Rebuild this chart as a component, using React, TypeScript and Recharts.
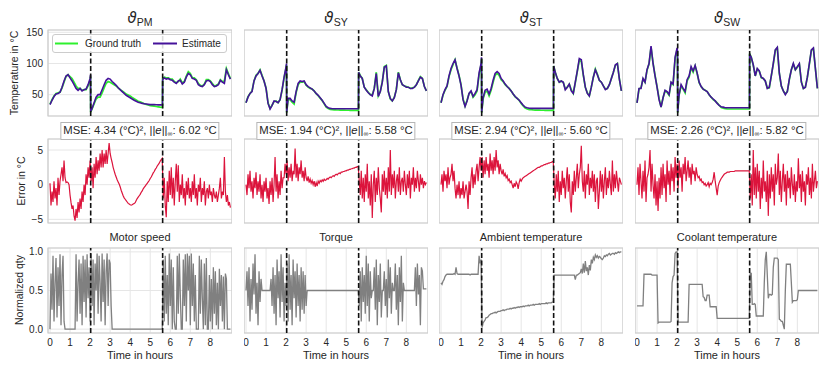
import React from "react";
import { CartesianGrid, LineChart, Line, ReferenceArea, ReferenceLine, XAxis, YAxis } from "recharts";

// time grids (hours)
const COARSE_HOURS = [
  0, 0.1, 0.2, 0.3, 0.4, 0.5, 0.6, 0.7, 0.8, 0.9,
  1, 1.1, 1.2, 1.3, 1.4, 1.5, 1.6, 1.7, 1.8, 1.9,
  2, 2.02, 2.03,
  2.1, 2.2, 2.3, 2.4, 2.5, 2.6, 2.7, 2.8, 2.9,
  3, 3.1, 3.2, 3.3, 3.4, 3.5, 3.6, 3.7, 3.8, 3.9,
  4, 4.1, 4.2, 4.3, 4.4, 4.5, 4.6, 4.7, 4.8, 4.9,
  5, 5.1, 5.2, 5.3, 5.4, 5.5, 5.6,
  5.61, 5.62,
  5.7, 5.8, 5.9,
  6, 6.1, 6.2, 6.3, 6.4, 6.5, 6.6, 6.7, 6.8, 6.9,
  7, 7.1, 7.2, 7.3, 7.4, 7.5, 7.6, 7.7, 7.8, 7.9,
  8, 8.1, 8.2, 8.3, 8.4, 8.5, 8.6, 8.7, 8.8, 8.9,
  9,
];

const FINE_HOURS = [
  0, 0.05, 0.1, 0.15, 0.2, 0.25, 0.3, 0.35, 0.4, 0.45, 0.5, 0.55, 0.6, 0.65, 0.7, 0.75, 0.8, 0.85, 0.9, 0.95,
  1, 1.05, 1.1, 1.15, 1.2, 1.25, 1.3, 1.35, 1.4, 1.45, 1.5, 1.55, 1.6, 1.65, 1.7, 1.75, 1.8, 1.85, 1.9, 1.95,
  2, 2.05, 2.1, 2.15, 2.2, 2.25, 2.3, 2.35, 2.4, 2.45, 2.5, 2.55, 2.6, 2.65, 2.7, 2.75, 2.8, 2.85, 2.9, 2.95,
  3, 3.05, 3.1, 3.15, 3.2, 3.25, 3.3, 3.35, 3.4, 3.45, 3.5, 3.55, 3.6, 3.65, 3.7, 3.75, 3.8, 3.85, 3.9, 3.95,
  4, 4.05, 4.1, 4.15, 4.2, 4.25, 4.3, 4.35, 4.4, 4.45, 4.5, 4.55, 4.6, 4.65, 4.7, 4.75, 4.8, 4.85, 4.9, 4.95,
  5, 5.05, 5.1, 5.15, 5.2, 5.25, 5.3, 5.35, 5.4, 5.45, 5.5, 5.55, 5.6, 5.65, 5.7, 5.75, 5.8, 5.85, 5.9, 5.95,
  6, 6.05, 6.1, 6.15, 6.2, 6.25, 6.3, 6.35, 6.4, 6.45, 6.5, 6.55, 6.6, 6.65, 6.7, 6.75, 6.8, 6.85, 6.9, 6.95,
  7, 7.05, 7.1, 7.15, 7.2, 7.25, 7.3, 7.35, 7.4, 7.45, 7.5, 7.55, 7.6, 7.65, 7.7, 7.75, 7.8, 7.85, 7.9, 7.95,
  8, 8.05, 8.1, 8.15, 8.2, 8.25, 8.3, 8.35, 8.4, 8.45, 8.5, 8.55, 8.6, 8.65, 8.7, 8.75, 8.8, 8.85, 8.9, 8.95,
  9,
];

// temperatures in °C on COARSE_HOURS
const PM_TRUTH = [
  35, 42, 48, 52, 53, 54, 61, 70, 79, 82,
  79, 76, 70, 64, 60, 60, 57, 58, 58, 64,
  73, 79, 22,
  27, 35, 43, 46, 46, 53, 61, 68, 71,
  70, 68, 66, 64, 61, 58, 56, 53.5, 51, 49.5,
  48, 45.5, 43.5, 41.5, 39.5, 38.5, 37, 35.5, 34.5, 33.5,
  32.5, 32, 31.5, 31, 30.5, 30, 29.7,
  29.7, 76,
  78, 77, 77,
  75, 75, 71, 69, 71, 75, 69, 71, 80, 87,
  84, 77, 77, 74, 68, 65, 64, 67, 74, 74,
  72, 68, 64, 65, 67, 74, 71, 72, 92, 84,
  76,
];
const PM_ESTIMATE = [
  34, 41, 47, 51, 52, 54, 62, 72, 80, 82,
  77, 72, 66, 60, 57, 60, 56, 58, 59, 66,
  76, 82, 23,
  28, 37, 46, 50, 50, 58, 66, 73, 76,
  75, 71, 68, 65, 61, 58, 55, 52, 49, 47,
  45, 43, 41, 39.5, 38, 37, 36, 35.5, 35, 34.5,
  34, 34, 34, 33.8, 33.7, 33.6, 33.5,
  33.5, 74,
  77, 75, 76,
  74, 73, 70, 68, 72, 73, 67, 70, 78, 84,
  82, 76, 75, 73, 66, 64, 63, 66, 72, 73,
  71, 66, 63, 64, 66, 73, 70, 68, 90, 82,
  75,
];
const SY_TRUTH = [
  37, 47, 52, 56, 72, 81, 84, 90, 81, 72,
  61, 37, 28, 33, 39, 40, 37, 42, 57, 77,
  93, 98, 21,
  42, 42, 38, 35, 53, 66, 70, 70, 71,
  65, 62, 60, 59, 56, 51.5, 48.5, 44.5, 40.5, 35.5,
  30, 28, 26.5, 26, 25.7, 25.5, 25.4, 25.3, 25.2, 25.1,
  25, 25, 24.9, 24.9, 24.8, 24.8, 24.8,
  24.8, 86,
  81, 76, 62,
  58, 54, 50, 50, 60, 86, 48, 55, 71, 95,
  97, 55, 43, 40, 46, 58, 86, 74, 66, 64,
  63, 62, 60, 61, 62, 66, 73, 79, 76, 63,
  56,
];
const SY_ESTIMATE = [
  37, 46, 52, 55, 72, 80, 84, 89, 80, 72,
  60, 36, 27, 33, 40, 39, 37, 42, 58, 78,
  95, 100, 22,
  44, 44, 40, 38, 55, 68, 72, 71, 72,
  66, 63, 61, 59, 56, 52, 49, 45, 41, 36,
  31, 29, 28, 27.5, 27.4, 27.4, 27.4, 27.4, 27.4, 27.4,
  27.4, 27.4, 27.4, 27.4, 27.4, 27.4, 27.4,
  27.4, 86,
  80, 76, 62,
  57, 53, 50, 48, 60, 84, 47, 55, 70, 94,
  96, 55, 44, 40, 45, 58, 85, 74, 66, 64,
  62, 62, 60, 60, 62, 66, 72, 78, 76, 63,
  56,
];
const ST_TRUTH = [
  37, 49, 57, 63, 79, 90, 98, 106, 93, 81,
  66, 43, 32, 41, 52, 55, 46, 50, 56, 82,
  98, 108, 21,
  43, 54, 56, 48, 57, 70, 81, 84, 81,
  74, 71, 66, 63, 60, 56, 51, 46.5, 44, 41,
  36, 32, 28.5, 27, 26, 25.8, 25.5, 25.3, 25.2, 25.1,
  25, 25, 24.9, 24.9, 24.8, 24.8, 24.7,
  24.7, 96,
  86, 76, 70,
  72, 70, 59, 62, 67, 58, 52, 69, 87, 105,
  103, 81, 62, 53, 48, 62, 78, 91, 83, 73,
  70, 64, 59, 60, 66, 76, 86, 97, 100, 75,
  56,
];
const ST_ESTIMATE = [
  37, 50, 58, 64, 80, 92, 100, 106, 92, 80,
  65, 42, 31, 40, 52, 56, 47, 52, 58, 85,
  100, 110, 22,
  45, 57, 59, 51, 60, 73, 84, 87, 84,
  76, 72, 67, 63, 60, 56, 51, 47, 44, 41,
  37, 33, 30, 29, 28.3, 28, 28, 28, 28, 28,
  28, 28, 28, 28, 28, 28, 28,
  28, 96,
  86, 76, 70,
  72, 70, 58, 62, 67, 56, 52, 70, 88, 108,
  106, 82, 62, 52, 48, 62, 78, 90, 82, 73,
  70, 64, 58, 60, 66, 76, 86, 98, 100, 75,
  56,
];
const SW_TRUTH = [
  37, 59, 61, 75, 70, 89, 99, 126, 101, 81,
  63, 44, 30, 45, 56, 54, 49, 69, 66, 108,
  123, 118, 21,
  49, 64, 59, 53, 72, 78, 93, 86, 96,
  84, 69, 63, 59, 57, 55, 50, 46, 42, 40,
  37, 33, 29.5, 28.5, 27.5, 27.2, 27, 27, 27, 27,
  27, 27, 27, 27, 27, 27, 27,
  27, 116,
  110, 97, 80,
  91, 88, 77, 76, 72, 61, 61, 80, 99, 121,
  125, 84, 64, 56, 51, 55, 74, 90, 99, 90,
  94, 99, 71, 60, 62, 78, 99, 121, 124, 92,
  60,
];
const SW_ESTIMATE = [
  37, 60, 60, 76, 70, 90, 100, 128, 100, 80,
  62, 42, 30, 45, 57, 55, 50, 70, 67, 110,
  125, 120, 22,
  50, 66, 60, 55, 74, 80, 95, 88, 97,
  85, 70, 63, 59, 57, 55, 50, 46, 43, 40,
  36, 33, 30.5, 30, 29, 29, 29, 29, 29, 29,
  29, 29, 29, 29, 29, 29, 29,
  29, 115,
  110, 98, 80,
  92, 88, 78, 76, 72, 60, 62, 80, 100, 122,
  126, 85, 64, 56, 50, 55, 75, 90, 100, 90,
  95, 100, 70, 60, 62, 78, 100, 122, 125, 92,
  60,
];

// estimation errors in °C on FINE_HOURS
const ERR_PM = [
  0.2, -3, -1, -2.5, 0.5, -2, -0.5, -3, 1, -1.5, 0.5, 1.5, 2.5, 0.5, 3.5, 1, 0.3, 0.4, 0.3, 0,
  -1.5, -2.6, -3.5, -3, -4.5, -5.2, -3.5, -4.8, -2.5, -4, -2, -3.5, -1, -2.5, 0, -1.5, 1.5, 0, 2.5, 1,
  3.5, 0.5, 2.5, -0.5, 3, 1, 4, 1.5, 3.5, 2, 4.5, 2.5, 5, 2.5, 4.5, 3, 5, 3, 4.5, 6,
  4.5, 3.8, 3.2, 2.5, 2, 1.5, 1.1, 0.7, 0.4, 0.1, -0.3, -0.8, -1.2, -1.6, -1.9, -2.1, -2.3, -2.5, -2.7, -2.8,
  -2.9, -2.95, -2.9, -2.8, -2.7, -2.6, -2.3, -2, -1.8, -1.6, -1.4, -1.1, -0.9, -0.6, -0.4, -0.2, 0, 0.2, 0.4, 0.6,
  0.9, 1.1, 1.4, 1.7, 1.9, 2.2, 2.4, 2.7, 2.9, 3.1, 3.4, 3.6, 3.8, -2, 1, -3, -4.7, 0.5, -2.5, 2,
  -1.5, 2.5, -2, 1, -3, 0.5, 3, -1, 2.8, -2.5, 0, -1.5, 1.5, -2, -0.5, -3, 0.5, -1.5, 1, -2,
  -0.5, -2.5, 0.5, -1.5, 1.5, -2, -0.5, -3, 0, -1, 1, -2.5, -0.5, -1.5, 0.5, -3, -1, -0.5, -2, 0,
  -1.5, -1, -2.5, -0.5, -1.5, -2, -1, -2.5, -1.5, -0.5, 1, -2, -1, -1.5, 4, -1, -2.5, -1.5, -3, -2.5,
  -3.3,
];
const ERR_SY = [
  0, -1.5, 1.5, -0.5, 2, -1, 0.5, -2, 1, -0.5, 1.8, -1.5, 0.5, -1, 1.5, -2, 0, -2.5, 0.5, -1,
  1, -2, -0.5, -2.8, 0.5, -1.5, 1, -2.5, 0, 4, -1, 1.5, -2, 0.5, -1.5, 2, -0.5, 1, 1, 3,
  1.5, 3.5, 0.5, 2.5, 1, 3, 0.5, 2, 1.5, 5.2, 1, 3, 0.5, 2.5, 1.5, 3.5, 1, 2, 0.5, 2.5,
  1, 0.5, 1.2, 0.3, 0.8, 0.2, 0.6, 0, 0.5, -0.3, 0.3, -0.2, 0.5, 0.2, 0.6, 0.4, 0.7, 0.5, 0.8, 0.6,
  0.7, 0.9, 0.8, 1, 1.1, 1, 1.2, 1.3, 1.2, 1.4, 1.5, 1.4, 1.6, 1.7, 1.6, 1.8, 1.8, 1.9, 1.9, 2,
  2, 2.1, 2.1, 2.2, 2.2, 2.3, 2.3, 2.4, 2.4, 2.5, 2.5, 2.6, 2.6, 0.5, -1.5, 2, -2, 1, -2.5, 1.5,
  -1, 3, -2, 0.5, -3, 1.5, -4.8, 0, 2, -2.5, 1, -1.5, 2.5, -0.5, -2, -4, 1.5, -1, 2, -1.5,
  1, -2, 2.5, -1, 5, -1.5, 1.5, -0.5, 2, -2, 0.5, 1.5, -1, 2.5, -1.5, 0.5, 1, -1, 2, 0,
  -1.5, 1.5, -0.5, 2, -2, 1, 0, 2.5, -1, 1, -0.5, 2, 0.5, -1, 1.5, 0, 1, -0.5, 0.5, 0,
  0.3,
];
const ERR_ST = [
  0, 1.5, -1, 2, 0.5, 1.5, -0.5, 2.5, 0, 1, 1.5, 3, 0.5, 2, -0.5, -2, 0, -1.5, 0.5, -2,
  -0.5, -1.5, 0.5, -2, -1, 0, -1, -3.5, 0.5, -1.5, 1, 2.5, -0.5, 1.5, 0, 2, 3, 0.5, 2.5, 4,
  2, 4, 1, 3.5, 1.5, 4, 2, 3, 1, 4.5, 2, 3.5, 1.5, 4, 2, 5, 2.5, 3.5, 1.5, 3,
  2, 1.5, 2.2, 1.2, 1.6, 1, 1.3, 0.6, 0.8, 0.3, 0.5, 0, -0.5, 0.2, -0.3, 0.4, 0.1, -0.6, 0.3, 0.8,
  0.5, 0.8, 1, 1.1, 1.2, 1.3, 1.4, 1.5, 1.6, 1.7, 1.8, 1.9, 2, 2.1, 2.2, 2.3, 2.4, 2.5, 2.5, 2.6,
  2.7, 2.7, 2.8, 2.9, 2.9, 3, 3, 3.1, 3.1, 3.2, 3.2, 3.3, 3.4, 0, -2, 1.5, -1, 2, -2.5, 0.5,
  -1.5, 2, -0.5, 1, -2, 0.5, 2.5, -1, 1.5, -2.5, -4, 0.5, -1.5, 2, -1, 1, 3, -0.5, 1.5, 2.5,
  5.6, 0.5, -1, 2, -2, 1.5, 0, 3, -1.5, 1, -0.5, 2, -1, 1.5, -2.5, 0.5, 1, -3.5, -1, 2,
  -1, 1.5, -2, 0.5, 2.5, -1.5, 1, -0.5, 2, 0, -1.5, 3.5, -1, 1.5, -0.5, 2, 0.5, -1, 1, 0.5,
  0,
];
const ERR_SW = [
  0, 2.5, -1.5, 3, 0.5, -2, 2, -1, 3.5, -2.5, 1, 1.5, 2.5, 5, -1, 3, 0, -2, 1.5, -3,
  0.5, -3.8, 1, -2, 2.5, -1.5, 3, -0.5, 1.5, -2.5, 3.5, 0, 2, -1.5, 3, 0.5, 2.5, -1, 4, 1,
  3, -0.5, 3.5, 1, 2.5, -1, 3, 1.5, 4, 0.5, 2, 3.5, 1, 2.5, 0, 3, 1.5, 2, 0.5, 2.5,
  1.5, 1, 1.2, 0.6, 0.8, 0.3, 0.4, 0, 0.2, -0.2, 0, 0.3, -0.3, 0.2, 0, 0.3, 0.8, 1.8, 0.5, -0.5,
  -1.5, -0.2, 0.3, 0.6, 0.9, 1.1, 1.3, 1.5, 1.6, 1.7, 1.8, 1.8, 1.8, 1.9, 1.9, 1.9, 1.9, 1.9, 2, 2,
  2, 2, 2, 2, 2, 2, 2, 2, 2, 2, 2, 2, 2, -2, 1.5, -3, 5, -1.5, 2.5, -2,
  3, -1, 2, -3.5, 1, -2, 3.5, -1, 0.5, -2.5, 2, -4.5, 1.5, -2, 2.5, -1, 1.5, -3, 3, 0,
  1, 4.5, -1.5, 2, -2.5, 0.5, 3, -1, 1.5, -3, 2, -0.5, 1, -2, 2.5, 0, -1.5, 1.5, -2.5, 0.5,
  -1, 3.8, -0.5, 1.5, -2.5, 2, -1, 0.5, -3, 1.5, 0, 2.5, -1.5, 1, -2, 3, -1, 0.5, 2, -0.5,
  0.5,
];

// normalized inputs on FINE_HOURS
const MOTOR_SPEED = [
  0, 0.72, 0.25, 0.95, 0.1, 0.6, 0.92, 0.15, 0.8, 0.3, 0.97, 0.05, 0.7, 0.95, 0.1, 0, 0, 0, 0, 0,
  0, 0, 0, 0, 0, 0, 0.97, 0.1, 0.6, 0.9, 0.2, 0.85, 0.05, 0.95, 0.35, 0.9, 0.15, 0.97, 0.4, 0.8,
  0.1, 0.98, 0.3, 0.9, 0.05, 0.85, 0.5, 0.98, 0.2, 0.95, 0.6, 0.1, 0.98, 0.35, 0.9, 0.05, 0.75, 0.98, 0.3, 0.9,
  0.85, 0.3, 0, 0, 0, 0, 0, 0, 0, 0, 0, 0, 0, 0, 0, 0, 0, 0, 0, 0,
  0, 0, 0, 0, 0, 0, 0, 0, 0, 0, 0, 0, 0, 0, 0, 0, 0, 0, 0, 0,
  0, 0, 0, 0, 0, 0, 0, 0, 0, 0, 0, 0, 0, 0.9, 0.1, 0.95, 0.2, 0.7, 0.05, 0.98,
  0.3, 0.9, 0, 0.8, 0.1, 0, 0, 0.95, 0.2, 0.98, 0.45, 0, 0, 0.9, 0.3, 0.97, 0.1, 0.98, 0.5, 0.95,
  0.05, 0.98, 0.3, 0.85, 0.1, 0.7, 0, 0, 0, 0.95, 0.2, 0.9, 0.4, 0, 0.85, 0.05, 0.92, 0, 0, 0.7,
  0.1, 0.65, 0, 0.8, 0.2, 0.75, 0.05, 0.6, 0, 0.78, 0.3, 0.7, 0.1, 0.68, 0, 0.72, 0.65, 0, 0, 0,
  0,
];
const TORQUE = [
  0.5, 0.75, 0.3, 0.8, 0.1, 0.65, 0.25, 0.85, 0.45, 0.97, 0.2, 0.6, 0.05, 0.75, 0.35, 0.65, 0.5, 0.5, 0.5, 0.5,
  0.5, 0.5, 0.5, 0.5, 0.5, 0.65, 0.3, 0.8, 0.2, 0.7, 0.05, 0.9, 0.4, 0.75, 0.15, 0.97, 0.35, 0.8, 0.1, 0.6,
  0.3, 0.85, 0.1, 0.97, 0.25, 0.7, 0.05, 0.9, 0.4, 0.75, 0.15, 0.85, 0.3, 0.7, 0.1, 0.8, 0.25, 0.75, 0.2, 0.7,
  0.3, 0.5, 0.5, 0.5, 0.5, 0.5, 0.5, 0.5, 0.5, 0.5, 0.5, 0.5, 0.5, 0.5, 0.5, 0.5, 0.5, 0.5, 0.5, 0.5,
  0.5, 0.5, 0.5, 0.5, 0.5, 0.5, 0.5, 0.5, 0.5, 0.5, 0.5, 0.5, 0.5, 0.5, 0.5, 0.5, 0.5, 0.5, 0.5, 0.5,
  0.5, 0.5, 0.5, 0.5, 0.5, 0.5, 0.5, 0.5, 0.5, 0.5, 0.5, 0.5, 0.5, 0.3, 0.75, 0.1, 0.8, 0.35, 0.7, 0.2,
  0.95, 0.3, 0.85, 0.1, 0.75, 0.4, 0.5, 0.5, 0.8, 0.25, 0.9, 0.05, 0.7, 0.35, 0.85, 0.15, 0.5, 0.5, 0.75, 0.3,
  0.65, 0.15, 0.9, 0.4, 0.8, 0.2, 0.6, 0.5, 0.5, 0.85, 0.25, 0.7, 0.05, 0.8, 0.35, 0.95, 0.1, 0.6, 0.5, 0.5,
  0.5, 0.5, 0.5, 0.5, 0.5, 0.5, 0.5, 0.5, 0.5, 0.8, 0.3, 0.85, 0.45, 0.7, 0.05, 0.8, 0.75, 0.52, 0.52, 0.52,
  0.52,
];
const AMBIENT = [
  0.6, 0.58, 0.62, 0.64, 0.68, 0.7, 0.71, 0.71, 0.71, 0.71, 0.71, 0.71, 0.71, 0.72, 0.71, 0.8, 0.72, 0.71, 0.71, 0.71,
  0.71, 0.71, 0.71, 0.71, 0.71, 0.71, 0.71, 0.71, 0.71, 0.7, 0.71, 0.71, 0.71, 0.71, 0.71, 0.71, 0.71, 0.71, 0.95, 0.85,
  0.9, 0.02, 0.08, 0.1, 0.12, 0.15, 0.15, 0.16, 0.18, 0.19, 0.2, 0.2, 0.21, 0.21, 0.22, 0.21, 0.22, 0.23, 0.23, 0.23,
  0.24, 0.24, 0.25, 0.24, 0.25, 0.25, 0.26, 0.26, 0.26, 0.27, 0.26, 0.27, 0.27, 0.28, 0.27, 0.28, 0.28, 0.29, 0.28, 0.29,
  0.29, 0.29, 0.3, 0.29, 0.3, 0.3, 0.3, 0.31, 0.3, 0.31, 0.31, 0.31, 0.32, 0.31, 0.32, 0.32, 0.32, 0.32, 0.33, 0.32,
  0.33, 0.33, 0.33, 0.33, 0.33, 0.34, 0.33, 0.34, 0.34, 0.34, 0.34, 0.35, 0.35, 0.7, 0.7, 0.7, 0.7, 0.7, 0.7, 0.7,
  0.7, 0.7, 0.7, 0.7, 0.7, 0.7, 0.7, 0.7, 0.7, 0.7, 0.7, 0.7, 0.7, 0.7, 0.64, 0.7, 0.7, 0.71, 0.72, 0.73,
  0.78, 0.72, 0.85, 0.73, 0.88, 0.75, 0.8, 0.7, 0.83, 0.76, 0.9, 0.85, 0.93, 0.9, 0.96, 0.93, 0.95, 0.92, 0.94, 0.93,
  0.91, 0.9, 0.92, 0.95, 0.94, 0.96, 0.95, 0.97, 0.98, 0.96, 0.97, 0.98, 0.98, 0.97, 0.99, 0.98, 0.99, 1, 0.99, 1,
  1,
];
const COOLANT = [
  0.3, 0.3, 0.3, 0.3, 0.3, 0.3, 0.3, 0.71, 0.71, 0.71, 0.71, 0.71, 0.71, 0.71, 0.71, 0.7, 0.7, 0.7, 0.7, 0.7,
  0.7, 0.08, 0.09, 0.09, 0.09, 0.09, 0.09, 0.09, 0.09, 0.09, 0.09, 0.09, 0.09, 0.09, 0.1, 0.6, 0.68, 0.7, 0.98, 1,
  1, 0.09, 0.09, 0.09, 0.09, 0.09, 0.09, 0.09, 0.09, 0.09, 0.09, 0.09, 0.58, 0.58, 0.58, 0.58, 0.58, 0.58, 0.58, 0.58,
  0.58, 0.58, 0.58, 0.58, 0.58, 0.58, 0.42, 0.41, 0.37, 0.37, 0.44, 0.44, 0.44, 0.29, 0.29, 0.29, 0.29, 0.29, 0.29, 0.29,
  0.14, 0.14, 0.14, 0.14, 0.14, 0.14, 0.14, 0.14, 0.14, 0.14, 0.14, 0.14, 0.14, 0.14, 0.14, 0.14, 0.14, 0.14, 0.14, 0.14,
  0.14, 0.14, 0.14, 0.14, 0.14, 0.14, 0.14, 0.14, 0.14, 0.14, 0.14, 0.14, 0.14, 0.72, 0.72, 0.32, 0.32, 0.33, 0.32, 0.17,
  0.17, 0.17, 0.17, 0.17, 0.17, 0.17, 0.17, 0.6, 0.9, 1, 0.7, 0.4, 0.45, 0.45, 0.44, 0.45, 0.8, 0.92, 0.92, 0.92,
  0.92, 0.9, 0.13, 0.12, 0.1, 0.1, 0.05, 0, 0.5, 0.84, 0.84, 0.84, 0.84, 0.84, 0.6, 0.35, 0.37, 0.37, 0.37, 0.37,
  0.38, 0.5, 0.5, 0.5, 0.5, 0.5, 0.5, 0.5, 0.5, 0.5, 0.5, 0.5, 0.5, 0.5, 0.5, 0.5, 0.5, 0.5, 0.5, 0.5,
  0.5,
];

const SUBSCRIPTS = ["PM", "SY", "ST", "SW"];
const MSE_VALUES = ["4.34", "1.94", "2.94", "2.26"];
const MAX_ERRORS = ["6.02", "5.58", "5.60", "5.82"];
const INPUT_NAMES = ["Motor speed", "Torque", "Ambient temperature", "Coolant temperature"];
const SPLITS = [2.03, 5.62];
const X_TICKS = [0, 1, 2, 3, 4, 5, 6, 7, 8];
const TEMP_TICKS = [50, 100, 150];
const ERR_TICKS = [-5, 0, 5];
const INPUT_TICKS = [0, 0.5, 1];

const TARGETS = [
  { truth: PM_TRUTH, estimate: PM_ESTIMATE, error: ERR_PM, input: MOTOR_SPEED },
  { truth: SY_TRUTH, estimate: SY_ESTIMATE, error: ERR_SY, input: TORQUE },
  { truth: ST_TRUTH, estimate: ST_ESTIMATE, error: ERR_ST, input: AMBIENT },
  { truth: SW_TRUTH, estimate: SW_ESTIMATE, error: ERR_SW, input: COOLANT },
];

// layout / style
const FONT = "'Liberation Sans', Arial, Helvetica, sans-serif";
const INK = "#262626";
const GRID = "#e6e6e6";
const FRAME = "#cccccc";
const GREEN = "#2ef02e";
const PURPLE = "#45129a";
const CRIMSON = "#dc143c";
const GREY = "#808080";

const PLOT_W = 184;
const PAD = 8;
const COL_LEFT = [48, 244, 439, 635];
const X_DOMAIN: [number, number] = [-0.1, 9.08];
const ROW_TEMP = { top: 30, height: 86, domain: [15.8, 153.7] as [number, number] };
const ROW_ERR = { top: 139, height: 84, domain: [-5.53, 6.59] as [number, number] };
const ROW_IN = { top: 248, height: 85, domain: [-0.05, 1.05] as [number, number] };

const fmtTemp = (v: number) => String(v);
const fmtErr = (v: number) => (v < 0 ? `\u2212${Math.abs(v)}` : String(v));
const fmtIn = (v: number) => v.toFixed(1);

function Panel({ left, row, data, ticks, fmt, showY, showX, lines }: any) {
  const yw = showY ? 40 : 0;
  const xh = showX ? 20 : 0;
  const bottom = showX ? 0 : PAD;
  const tickStyle = { fill: INK, fontSize: 10, fontFamily: FONT };
  return (
    <div style={{ position: "absolute", left: left - yw, top: row.top - PAD }}>
      <LineChart
        width={PLOT_W + yw}
        height={row.height + xh + PAD + bottom}
        data={data}
        margin={{ top: PAD, right: 0, bottom, left: 0 }}
      >
        <CartesianGrid stroke={GRID} strokeWidth={1} />
        <XAxis
          dataKey="t"
          type="number"
          domain={X_DOMAIN}
          ticks={X_TICKS}
          interval={0}
          allowDataOverflow
          height={xh}
          axisLine={false}
          tickLine={false}
          tickSize={0}
          tickMargin={6}
          tick={showX ? tickStyle : false}
        />
        <YAxis
          type="number"
          domain={row.domain}
          ticks={ticks}
          interval={0}
          allowDataOverflow
          width={yw}
          axisLine={false}
          tickLine={false}
          tickSize={0}
          tickMargin={5}
          tickFormatter={fmt}
          tick={showY ? tickStyle : false}
        />
        {lines}
        {SPLITS.map((x) => (
          <ReferenceLine key={x} x={x} stroke="#111111" strokeWidth={1.6} strokeDasharray="5 2.5" />
        ))}
        <ReferenceArea
          x1={X_DOMAIN[0]}
          x2={X_DOMAIN[1]}
          y1={row.domain[0]}
          y2={row.domain[1]}
          fill="none"
          fillOpacity={0}
          stroke={FRAME}
          strokeWidth={1.2}
        />
      </LineChart>
    </div>
  );
}

export default function App() {
  return (
    <div style={{ position: "absolute", left: 0, top: 0, width: 830, height: 374, background: "#fff", fontFamily: FONT, color: INK }}>
      {TARGETS.map((tg, c) => {
        const left = COL_LEFT[c];
        const cx = left + PLOT_W / 2;
        const tempData = COARSE_HOURS.map((t, i) => ({ t, truth: tg.truth[i], estimate: tg.estimate[i] }));
        const errData = FINE_HOURS.map((t, i) => ({ t, v: tg.error[i] }));
        const inData = FINE_HOURS.map((t, i) => ({ t, v: tg.input[i] }));
        return (
          <React.Fragment key={c}>
            <Panel
              left={left}
              row={ROW_TEMP}
              data={tempData}
              ticks={TEMP_TICKS}
              fmt={fmtTemp}
              showY={c === 0}
              showX={false}
              lines={[
                <Line key="truth" dataKey="truth" stroke={GREEN} strokeWidth={1.7} dot={false} isAnimationActive={false} />,
                <Line key="est" dataKey="estimate" stroke={PURPLE} strokeWidth={1.6} dot={false} isAnimationActive={false} />,
              ]}
            />
            <Panel
              left={left}
              row={ROW_ERR}
              data={errData}
              ticks={ERR_TICKS}
              fmt={fmtErr}
              showY={c === 0}
              showX={false}
              lines={[<Line key="err" dataKey="v" stroke={CRIMSON} strokeWidth={1.2} dot={false} isAnimationActive={false} />]}
            />
            <Panel
              left={left}
              row={ROW_IN}
              data={inData}
              ticks={INPUT_TICKS}
              fmt={fmtIn}
              showY={c === 0}
              showX={true}
              lines={[<Line key="in" dataKey="v" stroke={GREY} strokeWidth={1.3} dot={false} isAnimationActive={false} />]}
            />
            {/* column title */}
            <div style={{ position: "absolute", left: cx, top: 10, transform: "translateX(-50%)", whiteSpace: "nowrap", lineHeight: 1 }}>
              <span style={{ fontFamily: "'DejaVu Sans', sans-serif", fontStyle: "italic", fontSize: 15 }}>ϑ</span>
              <span style={{ fontSize: 10.5, position: "relative", top: 3 }}>{SUBSCRIPTS[c]}</span>
            </div>
            {/* error box */}
            <div
              style={{
                position: "absolute",
                left: cx,
                top: 121.5,
                transform: "translateX(-50%)",
                whiteSpace: "nowrap",
                fontSize: 11.3,
                lineHeight: "14px",
                padding: "0 2px",
                border: "1px solid #b5b5b5",
                background: "#fff",
              }}
            >
              MSE: {MSE_VALUES[c]} (°C)², ||<i>e</i>||
              <span style={{ fontSize: 7, position: "relative", top: 2 }}>∞</span>: {MAX_ERRORS[c]} °C
            </div>
            {/* input title */}
            <div style={{ position: "absolute", left: cx, top: 230.5, transform: "translateX(-50%)", whiteSpace: "nowrap", fontSize: 11, lineHeight: "13px" }}>
              {INPUT_NAMES[c]}
            </div>
            <div style={{ position: "absolute", left: cx, top: 348.5, transform: "translateX(-50%)", whiteSpace: "nowrap", fontSize: 11, lineHeight: "13px" }}>
              Time in hours
            </div>
          </React.Fragment>
        );
      })}

      {/* legend */}
      <div
        style={{
          position: "absolute",
          left: 52,
          top: 34,
          width: 173,
          height: 17,
          border: "1px solid #cccccc",
          borderRadius: 3,
          background: "rgba(255,255,255,0.85)",
          fontSize: 10,
          lineHeight: "17px",
        }}
      >
        <svg width={173} height={17} style={{ position: "absolute", left: 0, top: 0 }}>
          <line x1={2} x2={25} y1={8.5} y2={8.5} stroke={GREEN} strokeWidth={2} />
          <line x1={100} x2={124} y1={8.5} y2={8.5} stroke={PURPLE} strokeWidth={2} />
        </svg>
        <div style={{ position: "absolute", left: 32, top: 0, whiteSpace: "nowrap" }}>Ground truth</div>
        <div style={{ position: "absolute", left: 129, top: 0, whiteSpace: "nowrap" }}>Estimate</div>
      </div>

      {/* y axis labels */}
      <svg width={830} height={374} style={{ position: "absolute", left: 0, top: 0, pointerEvents: "none" }}>
        <text transform="translate(14,73) rotate(-90)" textAnchor="middle" dominantBaseline="central" fontSize={10.5} fontFamily={FONT} fill={INK}>
          Temperature in °C
        </text>
        <text transform="translate(21,181) rotate(-90)" textAnchor="middle" dominantBaseline="central" fontSize={10.5} fontFamily={FONT} fill={INK}>
          Error in °C
        </text>
        <text transform="translate(19,290) rotate(-90)" textAnchor="middle" dominantBaseline="central" fontSize={10.5} fontFamily={FONT} fill={INK}>
          Normalized qty
        </text>
      </svg>
    </div>
  );
}
